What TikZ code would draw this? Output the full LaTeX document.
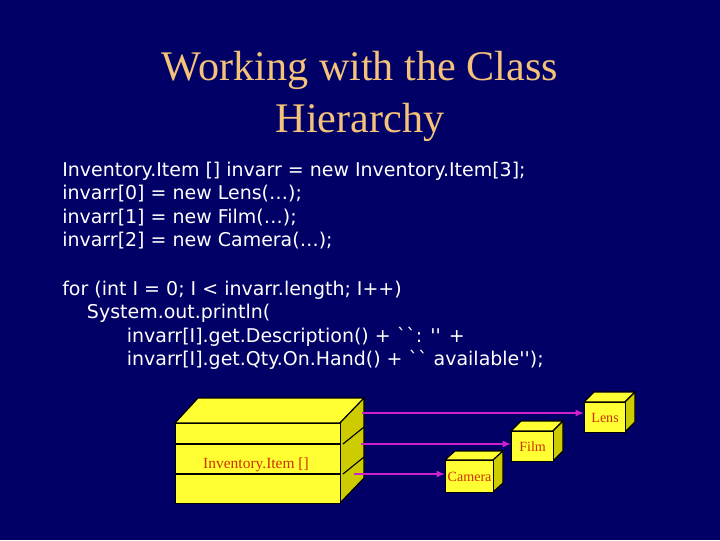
\documentclass[tikz,border=0pt]{standalone}
\usepackage{fontspec}
\setmainfont{Liberation Serif}
\newfontfamily\codefont{DejaVu Sans}
\usetikzlibrary{positioning,arrows.meta}
\definecolor{slidebg}{HTML}{000066}
\definecolor{titlecol}{HTML}{F5C27A}
\definecolor{boxface}{HTML}{FFFF33}
\definecolor{boxside}{HTML}{CCCC00}
\definecolor{labelcol}{HTML}{CC3300}
\definecolor{linkcol}{HTML}{CC22CC}

\begin{document}
\begin{tikzpicture}[
    x=0.025cm, y=-0.025cm,
    face/.style={draw=black, thick, fill=boxface, inner sep=0pt, anchor=north west},
    side/.style={draw=black, thick, fill=boxside},
    top/.style={draw=black, thick, fill=boxface},
    link/.style={-{Latex[length=6pt,width=5pt]}, linkcol, line width=1pt},
    code/.style={anchor=north west, text=white, font=\codefont\fontsize{13.5}{16.5}\selectfont, align=left, inner sep=0pt}
]
    % Background
    \fill[slidebg] (0,0) rectangle (720,540);

    % Title
    \node[text=titlecol, font=\fontsize{30}{37}\selectfont, align=center] (title) at (360,96) {Working with the Class\\Hierarchy};

    % Code
    \node[code] (decl) at (62,162) {Inventory.Item [] invarr = new Inventory.Item[3];\\invarr[0] = new Lens(\dots);\\invarr[1] = new Film(\dots);\\invarr[2] = new Camera(\dots);};
    \node[code] (loop) at (62,281) {for (int I = 0; I {\textless} invarr.length; I++)\\
    \hspace*{1.3em}System.out.println(\\
    \hspace*{3.4em}invarr[I].get.Description() + ``: '' +\\
    \hspace*{3.4em}invarr[I].get.Qty.On.Hand() + `` available'');};

    % Array box
    \draw[top] (175,423) -- (198,398) -- (364,398) -- (340,423) -- cycle;
    \draw[side] (340,423) -- (364,398) -- (364,478) -- (340,503) -- cycle;
    \node[face, minimum width=165*0.025cm, minimum height=80*0.025cm] (array) at (175,423) {};
    \draw[thick] (175,444) -- (340,444);
    \draw[thick] (175,474) -- (340,474);
    \draw[thick] (343,444) -- (364,427);
    \draw[thick] (343,474) -- (364,457);
    \node[text=labelcol, font=\fontsize{11}{13}\selectfont] (arraylbl) at (256,465) {Inventory.Item []};

    % Element boxes
    \draw[top] (584,402) -- (594,392) -- (635,392) -- (625,402) -- cycle;
    \draw[side] (625,402) -- (635,392) -- (635,422) -- (625,432) -- cycle;
    \node[face, minimum width=41*0.025cm, minimum height=30*0.025cm] (lens) at (584,402) {};
    \node[text=labelcol, font=\fontsize{10}{12}\selectfont] at (lens.center) {Lens};

    \draw[top] (511,431) -- (521,421) -- (563,421) -- (553,431) -- cycle;
    \draw[side] (553,431) -- (563,421) -- (563,451) -- (553,461) -- cycle;
    \node[face, minimum width=42*0.025cm, minimum height=30*0.025cm] (film) at (511,431) {};
    \node[text=labelcol, font=\fontsize{10}{12}\selectfont] at (film.center) {Film};

    \draw[top] (445,460) -- (455,451) -- (503,451) -- (493,460) -- cycle;
    \draw[side] (493,460) -- (503,451) -- (503,483) -- (493,492) -- cycle;
    \node[face, minimum width=48*0.025cm, minimum height=32*0.025cm] (camera) at (445,460) {};
    \node[text=labelcol, font=\fontsize{10}{12}\selectfont] at (camera.center) {Camera};

    % Links
    \coordinate (s1) at (362,413);
    \coordinate (s2) at (361,444);
    \coordinate (s3) at (354,474);
    \draw[link] (s1) -- (s1 -| lens.west);
    \draw[link] (s2) -- (s2 -| film.west);
    \draw[link] (s3) -- (s3 -| camera.west);
\end{tikzpicture}
\end{document}
